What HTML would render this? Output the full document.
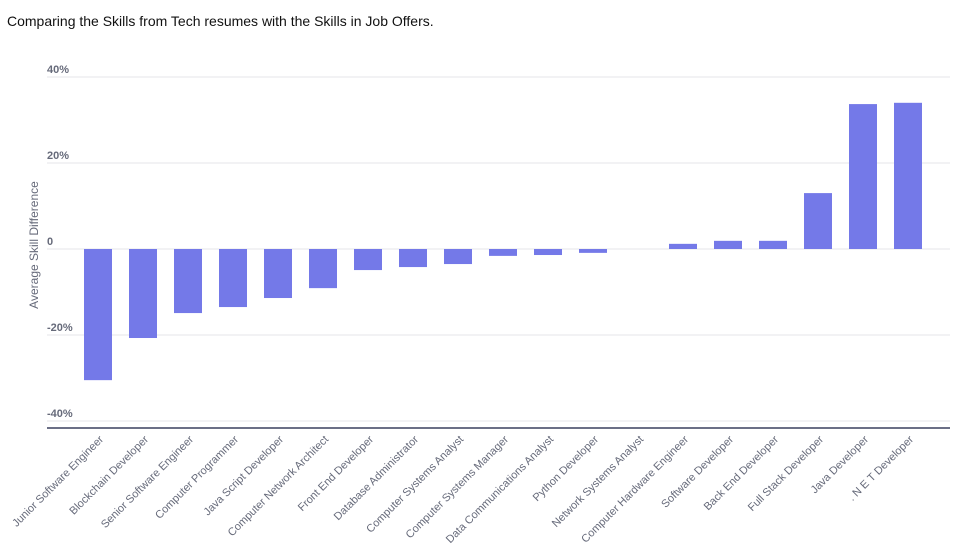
<!DOCTYPE html>
<html><head><meta charset="utf-8"><style>
body{margin:0;background:#fff;width:970px;height:547px;overflow:hidden;font-family:"Liberation Sans",sans-serif}
#title{position:absolute;left:7px;top:13px;font-size:14px;color:#111}
svg{position:absolute;left:0;top:0}
</style></head><body>
<div id="title">Comparing the Skills from Tech resumes with the Skills in Job Offers.</div>
<svg id="chart" width="970" height="547"></svg>
<script>
const categories=["Junior Software Engineer","Blockchain Developer","Senior Software Engineer","Computer Programmer","Java Script Developer","Computer Network Architect","Front End Developer","Database Administrator","Computer Systems Analyst","Computer Systems Manager","Data Communications Analyst","Python Developer","Network Systems Analyst","Computer Hardware Engineer","Software Developer","Back End Developer","Full Stack Developer","Java Developer",". N E T Developer"];
const values=[-30.5,-20.7,-14.9,-13.5,-11.4,-9.1,-4.9,-4.2,-3.5,-1.6,-1.4,-0.9,0,1.2,1.9,1.9,13,33.7,34];
const ticks=[40,20,0,-20,-40];
const tickLabels=["40%","20%","0","-20%","-40%"];
const svg=document.getElementById('chart');
const NS='http://www.w3.org/2000/svg';
const x0=47,x1=950,y0=249,ppu=4.3,step=45,firstC=98,bw=28;
const y=v=>y0-v*ppu;
const xc=i=>firstC+i*step;
function mk(t,a){const e=document.createElementNS(NS,t);for(const k in a)e.setAttribute(k,a[k]);svg.appendChild(e);return e;}
ticks.forEach((t,i)=>{
 const g=mk('line',{x1:x0,x2:x1,y1:y(t),y2:y(t),stroke:'#e6e6ea','stroke-width':1});
 
 
 const l=mk('text',{x:x0,y:y(t)-4,'font-size':11,fill:'#666a7a','font-weight':'bold'});
 l.textContent=tickLabels[i];
 
 
});
const ax=mk('line',{x1:x0,x2:x1,y1:428,y2:428,stroke:'#6b6f86','stroke-width':2});


const yt=mk('text',{x:0,y:0,'font-size':12,fill:'#666a7a','text-anchor':'middle',transform:'translate(38,245) rotate(-90)'});
yt.textContent='Average Skill Difference';


categories.forEach((c,i)=>{
 const v=values[i];
 const r=mk('rect',{x:xc(i)-bw/2,y:Math.min(y(v),y0),width:bw,height:Math.abs(v)*ppu,fill:'#7479e8'});
 
 
 const t=mk('text',{x:0,y:0,'font-size':11,fill:'#666a7a','text-anchor':'end',transform:`translate(${xc(i)+6},${440}) rotate(-45)`});
 t.textContent=c;
 
 
});
</script>
</body></html>
